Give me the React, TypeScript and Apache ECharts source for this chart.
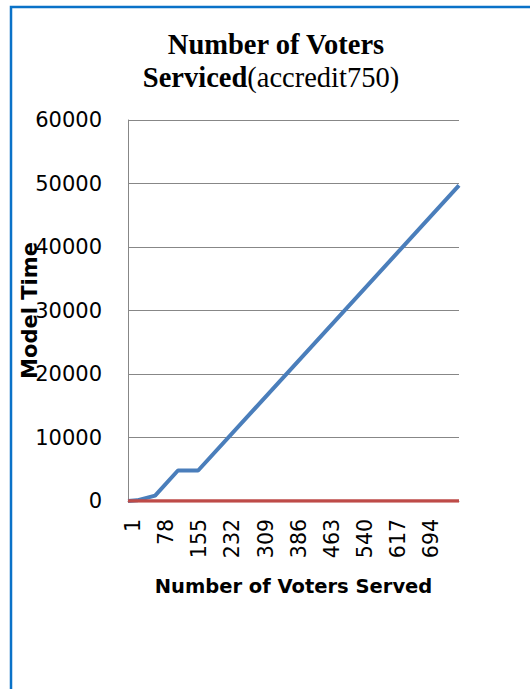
import React, { useEffect, useRef } from "react";
import * as echarts from "echarts";

// Voter numbers along the x axis (1 … 770)
const voterCount = 770;
const categories: string[] = Array.from({ length: voterCount }, (_, i) => String(i + 1));

// Model time at the voter numbers where the curve changes course
const servicedPoints: [number, number][] = [
  [1, 0],
  [22, 100],
  [64, 850],
  [117, 4800],
  [164, 4800],
  [770, 49700],
];

// Baseline series, zero throughout
const baselinePoints: [number, number][] = [
  [1, 0],
  [770, 0],
];

const yTicks = { min: 0, max: 60000, interval: 10000 };

function toSeries(points: [number, number][]): (number | null)[] {
  const arr: (number | null)[] = new Array(voterCount).fill(null);
  points.forEach(([voter, value]) => {
    arr[voter - 1] = value;
  });
  return arr;
}

export default function App() {
  const ref = useRef<HTMLDivElement>(null);

  useEffect(() => {
    if (!ref.current) return;
    const chart = echarts.init(ref.current, undefined, { renderer: "svg" });
    chart.setOption({
      animation: false,
      backgroundColor: "#ffffff",
      graphic: [
        {
          type: "rect",
          shape: { x: 11, y: 7, width: 700, height: 900 },
          style: { fill: "none", stroke: "#0a72c8", lineWidth: 2.5 },
          silent: true,
        },
      ],
      title: {
        text: "{b|Number of Voters}\n{b|Serviced}{n|(accredit750)}",
        left: 271,
        textAlign: "center",
        top: 23,
        textStyle: {
          rich: {
            b: {
              fontFamily: "Liberation Serif",
              fontWeight: "bold",
              fontSize: 28.5,
              color: "#000",
              lineHeight: 33,
            },
            n: {
              fontFamily: "Liberation Serif",
              fontWeight: "normal",
              fontSize: 28.5,
              color: "#000",
              lineHeight: 33,
              padding: [0, 10, 0, 0],
            },
          },
        },
      },
      grid: {
        left: 128,
        right: 71,
        top: 120,
        bottom: 188,
        containLabel: false,
        outerBoundsMode: "none",
      },
      xAxis: {
        type: "category",
        data: categories,
        boundaryGap: false,
        name: "Number of Voters Served",
        nameLocation: "middle",
        nameGap: 75,
        nameMoveOverlap: false,
        nameTextStyle: {
          fontFamily: "DejaVu Sans",
          fontWeight: "bold",
          fontSize: 19.5,
          color: "#000",
        },
        axisLine: { show: true, lineStyle: { color: "#878787" } },
        axisTick: { show: false },
        axisLabel: {
          interval: 76,
          rotate: 90,
          margin: 18,
          verticalAlign: "top",
          lineHeight: 10,
          fontFamily: "DejaVu Sans",
          fontSize: 20.5,
          color: "#000",
        },
        splitLine: { show: false },
      },
      yAxis: {
        type: "value",
        min: yTicks.min,
        max: yTicks.max,
        interval: yTicks.interval,
        name: "Model Time",
        nameLocation: "middle",
        nameGap: 88,
        nameRotate: 90,
        nameMoveOverlap: false,
        nameTextStyle: {
          fontFamily: "DejaVu Sans",
          fontWeight: "bold",
          fontSize: 21,
          color: "#000",
        },
        axisLine: { show: true, lineStyle: { color: "#878787" } },
        axisTick: { show: false },
        axisLabel: {
          margin: 26,
          formatter: (v: number) => String(v),
          fontFamily: "DejaVu Sans",
          fontSize: 21,
          color: "#000",
        },
        splitLine: { show: true, lineStyle: { color: "#878787", width: 1 } },
      },
      series: [
        {
          type: "line",
          data: toSeries(servicedPoints),
          connectNulls: true,
          showSymbol: false,
          symbol: "none",
          lineStyle: { color: "#4a7ebb", width: 4 },
          z: 2,
        },
        {
          type: "line",
          data: toSeries(baselinePoints),
          connectNulls: true,
          showSymbol: false,
          symbol: "none",
          lineStyle: { color: "#be4b48", width: 3.5 },
          z: 3,
        },
      ],
    });
    return () => chart.dispose();
  }, []);

  return (
    <div
      ref={ref}
      style={{ position: "fixed", left: 0, top: 0, width: 530, height: 689 }}
    />
  );
}
